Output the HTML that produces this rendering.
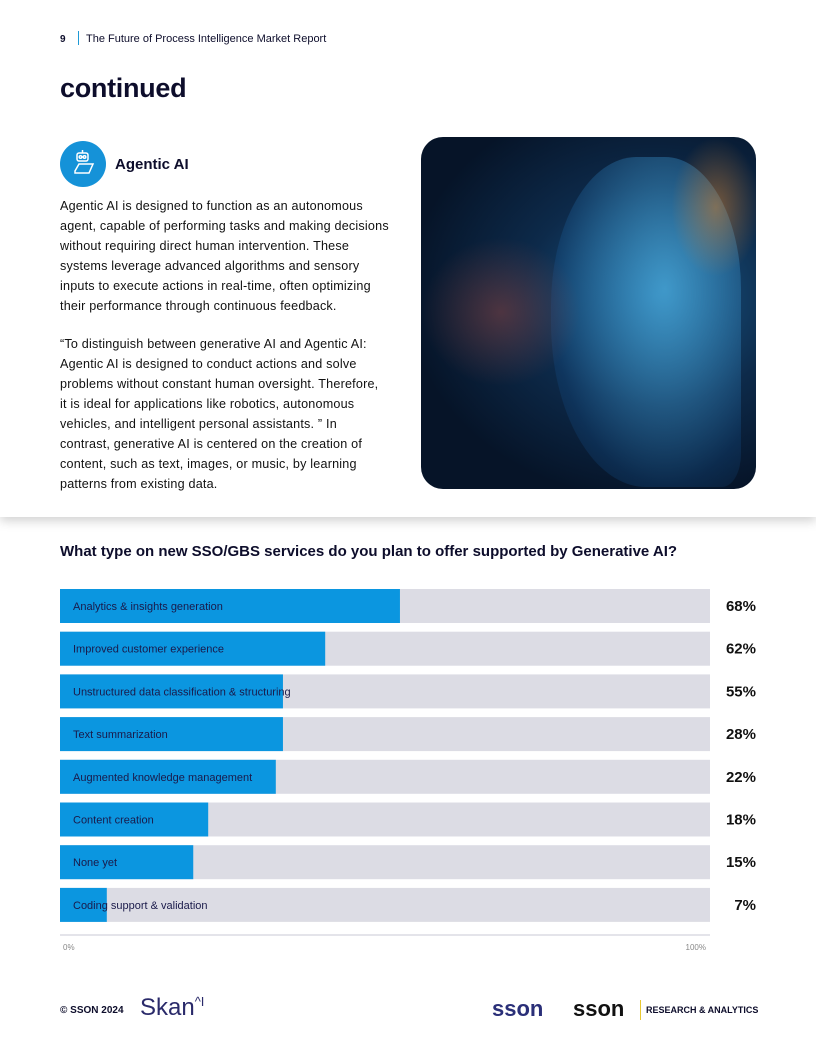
<!DOCTYPE html>
<html><head><meta charset="utf-8"><style>
body{margin:0;width:816px;height:1056px;background:#fff;position:relative;font-family:"Liberation Sans",sans-serif;color:#0d0d2b;overflow:hidden}
.abs{position:absolute}
.body p{margin:0;font-size:12.6px;line-height:20px;color:#111;letter-spacing:0.2px;white-space:nowrap}
</style></head><body>
<div class="abs" style="left:0;top:0;width:816px;height:517px;background:#fff;box-shadow:0 4px 10px rgba(0,0,0,0.18)"></div>
<div class="abs" style="left:60px;top:34px;font-size:10px;font-weight:bold">9</div>
<div class="abs" style="left:78px;top:31px;width:1px;height:14px;background:#1e9ad6"></div>
<div class="abs" style="left:86px;top:33px;font-size:11px">The Future of Process Intelligence Market Report</div>
<div class="abs" style="left:60px;top:73px;font-size:27px;font-weight:900;letter-spacing:-0.3px">continued</div>
<div class="abs" style="left:60px;top:141px;width:46px;height:46px;border-radius:50%;background:#1592d8">
<svg width="46" height="46" viewBox="0 0 46 46"><g fill="none" stroke="#fff" stroke-width="1.5"><rect x="17" y="12" width="11" height="8" rx="2"/><circle cx="20.5" cy="16" r="1.3"/><circle cx="24.5" cy="16" r="1.3"/><line x1="22.5" y1="9" x2="22.5" y2="12"/><path d="M15 30 L19 23 H33 L29 32 H15 Z"/></g></svg></div>
<div class="abs" style="left:115px;top:156px;font-size:15px;font-weight:bold">Agentic AI</div>
<div class="abs body" style="left:60px;top:196px;width:345px">
<p>Agentic AI is designed to function as an autonomous<br>agent, capable of performing tasks and making decisions<br>without requiring direct human intervention. These<br>systems leverage advanced algorithms and sensory<br>inputs to execute actions in real-time, often optimizing<br>their performance through continuous feedback.</p><br>
<p>“To distinguish between generative AI and Agentic AI:<br>Agentic AI is designed to conduct actions and solve<br>problems without constant human oversight. Therefore,<br>it is ideal for applications like robotics, autonomous<br>vehicles, and intelligent personal assistants. ” In<br>contrast, generative AI is centered on the creation of<br>content, such as text, images, or music, by learning<br>patterns from existing data.</p></div>
<div class="abs" style="left:421px;top:137px;width:335px;height:352px;border-radius:22px;overflow:hidden;background:radial-gradient(ellipse at 70% 45%,#1a5a8a 0%,#0d2a4a 40%,#061428 75%),#061428">
<div class="abs" style="left:130px;top:20px;width:190px;height:330px;border-radius:45% 40% 10% 50%;background:radial-gradient(ellipse at 60% 40%,rgba(80,180,230,0.7),rgba(20,80,140,0.3) 70%,transparent)"></div>
<div class="abs" style="left:0;top:100px;width:160px;height:150px;background:radial-gradient(ellipse,rgba(200,80,60,0.35),transparent 70%)"></div>
<div class="abs" style="left:250px;top:0;width:90px;height:140px;background:radial-gradient(ellipse,rgba(240,140,40,0.45),transparent 70%)"></div>
</div>
<div class="abs" style="left:60px;top:543px;font-size:15px;font-weight:bold">What type on new SSO/GBS services do you plan to offer supported by Generative AI?</div>
<svg class="abs" id="chart" style="left:0;top:580px" width="816" height="380"></svg>
<div class="abs" style="left:60px;top:1005px;font-size:10px;font-weight:bold">© SSON 2024</div>
<div class="abs" style="left:140px;top:994px;font-size:24px;color:#2a2a6a">Skan<sup style="font-size:13px">^I</sup></div>
<div class="abs" style="left:492px;top:996px;font-size:22px;font-weight:bold;color:#2a2f78">sson</div>
<div class="abs" style="left:573px;top:996px;font-size:22px;font-weight:bold;color:#111">sson</div>
<div class="abs" style="left:640px;top:1000px;width:1px;height:20px;background:#e8c830"></div>
<div class="abs" style="left:646px;top:1005px;font-size:9px;font-weight:bold">RESEARCH &amp; ANALYTICS</div>
<script>
const categories=["Analytics & insights generation","Improved customer experience","Unstructured data classification & structuring","Text summarization","Augmented knowledge management","Content creation","None yet","Coding support & validation"];
const barLengths=[52.3,40.8,34.3,34.3,33.2,22.8,20.5,7.2];
const valueLabels=["68%","62%","55%","28%","22%","18%","15%","7%"];
const axisTicks=["0%","100%"];
const svg=document.getElementById('chart'),NS='http://www.w3.org/2000/svg';
const x0=60,x1=710,y0=9,step=42.7,bh=34;
const xs=v=>x0+(x1-x0)*v/100;
function mk(t,a,txt){const e=document.createElementNS(NS,t);for(const k in a)e.setAttribute(k,a[k]);if(txt!=null)e.textContent=txt;svg.appendChild(e);return e;}
categories.forEach((c,i)=>{const y=y0+i*step;
let t=mk('rect',{x:x0,y:y,width:x1-x0,height:bh,fill:'#dcdce4'});


let b=mk('rect',{x:x0,y:y,width:xs(barLengths[i])-x0,height:bh,fill:'#0b96e0'});


let l=mk('text',{x:73,y:y+21,'font-size':11,fill:'#1a1a4a','font-family':'Liberation Sans'},c);


let v=mk('text',{x:756,y:y+22,'font-size':15,'font-weight':'bold','text-anchor':'end',fill:'#111','font-family':'Liberation Sans'},valueLabels[i]);


});
let ax=mk('line',{x1:x0,x2:x1,y1:355,y2:355,stroke:'#e4e4ea','stroke-width':2});


axisTicks.forEach((t,i)=>{let e=mk('text',{x:i?706:63,y:370,'font-size':8,fill:'#888','text-anchor':i?'end':'start','font-family':'Liberation Sans'},t);

});
</script>
</body></html>
